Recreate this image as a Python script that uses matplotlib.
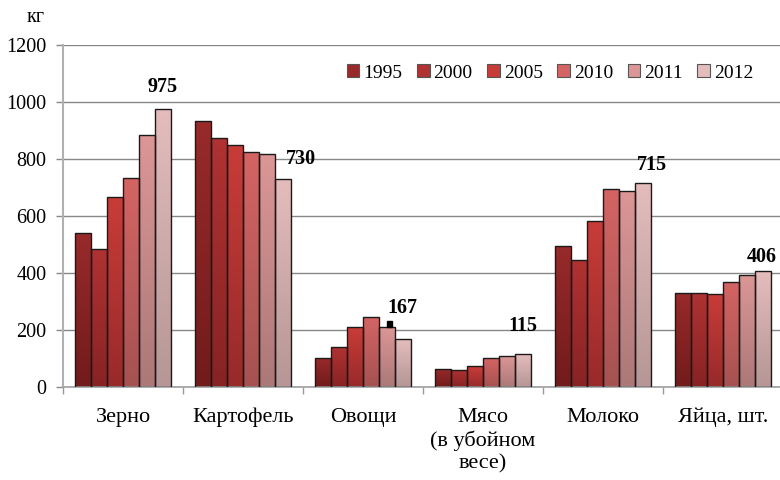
import matplotlib
matplotlib.use("Agg")
import matplotlib.pyplot as plt
import numpy as np
from matplotlib.patches import Patch, Rectangle
from matplotlib.colors import LinearSegmentedColormap

plt.rcParams['font.family'] = ['Liberation Serif', 'DejaVu Serif']

categories = ['Зерно', 'Картофель', 'Овощи', 'Мясо\n(в убойном\nвесе)', 'Молоко', 'Яйца, шт.']
years = ['1995', '2000', '2005', '2010', '2011', '2012']
v1995 = [540, 935, 103, 64, 495, 330]
v2000 = [485, 872, 139, 60, 446, 330]
v2005 = [665, 849, 210, 72, 584, 325]
v2010 = [735, 826, 247, 101, 696, 369]
v2011 = [885, 819, 210, 108, 688, 394]
v2012 = [975, 730, 167, 115, 715, 406]
series = [v1995, v2000, v2005, v2010, v2011, v2012]
yticks = [0, 200, 400, 600, 800, 1000, 1200]

# gradient colours per year: top, bottom
tops = ['#982a2a', '#b03232', '#c83c38', '#d46464', '#dc9696', '#e4bcbc']
bottoms = ['#721b1b', '#882323', '#982a2a', '#a65252', '#ac7878', '#b69696']
# offsets of the 2012 value labels (pixels from bar top centre)
lab_off = [(0, 22), (18, 20), (0, 31), (0, 28), (9, 18), (-1, 14)]

fig = plt.figure(figsize=(7.8, 4.8), dpi=100)
ax = fig.add_axes([63 / 780, 1 - 387 / 480, 720 / 780, 342 / 480])

n = len(categories)
bw = 0.132
x = np.arange(n)
for i, vals in enumerate(series):
    xs = x + (i - 2.5) * bw
    cmap = LinearSegmentedColormap.from_list('g%d' % i, [bottoms[i], tops[i]])
    bars = ax.bar(xs, vals, bw, color='none', edgecolor='#1a1a1a', linewidth=1.0, zorder=3)
    for b in bars:
        x0 = b.get_x()
        h = b.get_height()
        grad = np.linspace(0, 1, 64).reshape(-1, 1)
        im = ax.imshow(grad, cmap=cmap, origin='lower', aspect='auto',
                       extent=[x0, x0 + bw, 0, h], zorder=2)
        im.set_clip_path(b)

# small black mark on top of the vegetables 2011 bar
xb = x[2] + 1.5 * bw
ax.add_patch(Rectangle((xb, v2011[2]), 0.04, 22, color='black', zorder=4))

for j in range(n):
    xs = x[j] + 2.5 * bw
    ax.annotate(str(v2012[j]), (xs, v2012[j]), xytext=lab_off[j], textcoords='offset pixels',
                ha='center', va='center', fontsize=14.5, fontweight='bold', zorder=5)

ax.set_xlim(-0.5, n - 0.5)
ax.set_ylim(0, 1200)
ax.set_yticks(yticks)
ax.yaxis.grid(True, color='#888888', linewidth=1.0)
ax.set_axisbelow(True)
ax.set_xticks(x)
ax.set_xticklabels(categories, fontsize=16, linespacing=1.22)
ax.set_xticks(np.arange(n + 1) - 0.5, minor=True)
ax.tick_params(axis='x', which='major', length=0, pad=15)
ax.tick_params(axis='x', which='minor', length=5, color='#999999', width=1)
ax.tick_params(axis='y', length=5, color='#888888', width=1, labelsize=14.5, pad=7)
for s in ['top', 'right']:
    ax.spines[s].set_visible(False)
ax.spines['left'].set_color('#b0b0b0')
ax.spines['left'].set_linewidth(1.5)
ax.spines['bottom'].set_color('#a0a0a0')
ax.spines['bottom'].set_linewidth(1.2)

fig.text(45 / 780, 1 - 18 / 480, 'кг', ha='right', va='center', fontsize=14.5)

handles = [Patch(facecolor=tops[i], edgecolor='#555555', linewidth=0.8, label=years[i]) for i in range(6)]
fig.legend(handles=handles, loc='center', bbox_to_anchor=(550 / 780, 1 - 73 / 480), ncol=6,
           frameon=False, fontsize=14, handlelength=0.65, handleheight=0.65,
           handletextpad=0.2, columnspacing=0.75, borderpad=0)

fig.savefig('out.png', dpi=100)
